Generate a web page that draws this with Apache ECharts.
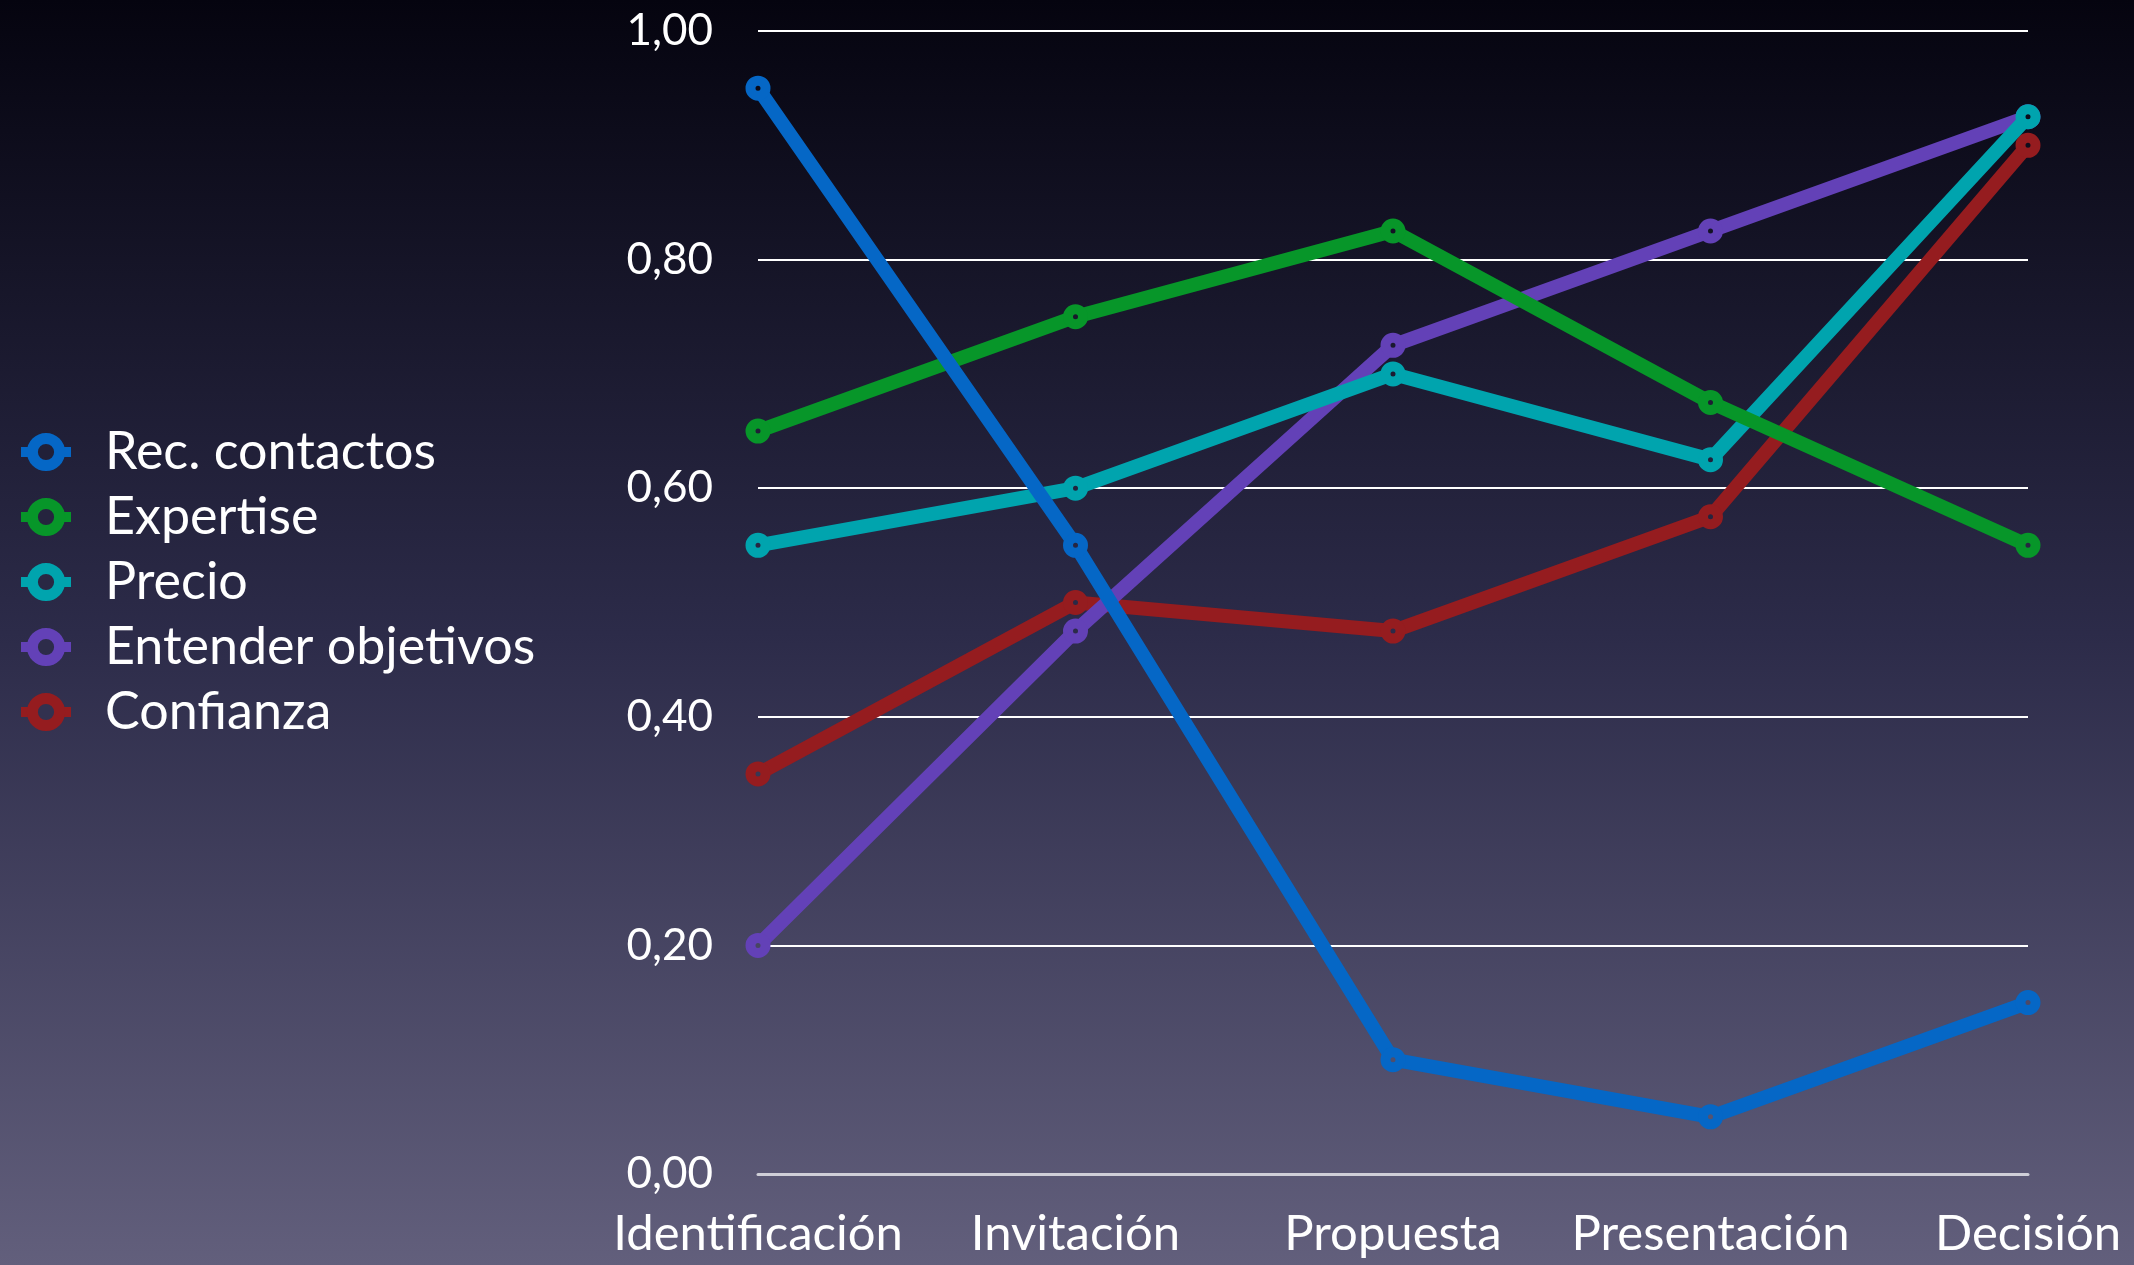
<!DOCTYPE html>
<html>
<head>
<meta charset="utf-8">
<script src="https://cdn.jsdelivr.net/npm/echarts@6/dist/echarts.min.js"></script>
<style>
  html, body { margin: 0; padding: 0; width: 2134px; height: 1265px; overflow: hidden; }
  #chart { width: 2134px; height: 1265px; }
</style>
</head>
<body>
<div id="chart"></div>
<script>
// Stages of the sales process
const categories = ['Identificación', 'Invitación', 'Propuesta', 'Presentación', 'Decisión'];

// Weight of each factor at each stage
const recContactos = [0.95, 0.55, 0.10, 0.05, 0.15];
const expertise = [0.65, 0.75, 0.825, 0.675, 0.55];
const precio = [0.55, 0.60, 0.70, 0.625, 0.925];
const entenderObjetivos = [0.20, 0.475, 0.725, 0.825, 0.925];
const confianza = [0.35, 0.50, 0.475, 0.575, 0.90];

const seriesNames = ['Rec. contactos', 'Expertise', 'Precio', 'Entender objetivos', 'Confianza'];
const seriesData = [recContactos, expertise, precio, entenderObjetivos, confianza];
const seriesColors = ['#0567c6', '#079629', '#00a4ae', '#6341b7', '#951c1f'];

const FONT = 'Lato, "Open Sans", sans-serif';
const WIDTH = 2134, HEIGHT = 1265;
const GRID = { left: 758, right: 106, top: 31, bottom: 91 };

// Vertical background gradient, also used to paint the hollow centre of the markers
const bgStops = [
  { offset: 0, color: [5, 4, 15] },
  { offset: 0.5, color: [44, 43, 73] },
  { offset: 1, color: [98, 95, 124] }
];
function bgAt(y) {
  const t = Math.max(0, Math.min(1, y / HEIGHT));
  let a = bgStops[0], b = bgStops[bgStops.length - 1];
  for (let i = 0; i < bgStops.length - 1; i++) {
    if (t >= bgStops[i].offset && t <= bgStops[i + 1].offset) { a = bgStops[i]; b = bgStops[i + 1]; break; }
  }
  const k = (t - a.offset) / ((b.offset - a.offset) || 1);
  const c = a.color.map((v, j) => Math.round(v + (b.color[j] - v) * k));
  return 'rgb(' + c.join(',') + ')';
}
const toRgb = c => 'rgb(' + c.join(',') + ')';

const chart = echarts.init(document.getElementById('chart'), null, { renderer: 'canvas' });

// Pixel row of a value on the y axis (axis runs 0..1)
function valueRow(v) {
  const h = HEIGHT - GRID.top - GRID.bottom;
  return GRID.top + (1 - v) * h;
}

const series = seriesData.map((data, i) => ({
  name: seriesNames[i],
  type: 'line',
  data: data,
  z: 10 - i,
  symbol: 'circle',
  symbolSize: 15,
  lineStyle: { color: seriesColors[i], width: 14 },
  itemStyle: {
    color: p => bgAt(valueRow(p.value)),
    borderColor: seriesColors[i],
    borderWidth: 10
  },
  emphasis: { disabled: true },
  animation: false
}));

// Legend rows sit at fixed heights; their ring centres take the local background tone
const legendTop = 426;
const legendStep = 64;
const legendData = seriesNames.map((name, i) => ({
  name: name,
  itemStyle: {
    color: bgAt(legendTop + 22 + i * legendStep),
    borderColor: seriesColors[i],
    borderWidth: 11
  },
  lineStyle: { color: seriesColors[i], width: 10 }
}));

chart.setOption({
  backgroundColor: {
    type: 'linear', x: 0, y: 0, x2: 0, y2: 1,
    colorStops: bgStops.map(s => ({ offset: s.offset, color: toRgb(s.color) }))
  },
  animation: false,
  legend: {
    orient: 'vertical',
    left: 16,
    top: legendTop,
    padding: 0,
    itemGap: 13,
    itemWidth: 50,
    itemHeight: 34,
    data: legendData,
    textStyle: { color: '#ffffff', fontFamily: FONT, fontSize: 52, lineHeight: 44, padding: [0, 0, 0, 29] }
  },
  grid: GRID,
  xAxis: {
    type: 'category',
    data: categories,
    boundaryGap: false,
    axisLine: { show: true, lineStyle: { color: '#cfcfd8', width: 3 } },
    axisTick: { show: false },
    axisLabel: { color: '#ffffff', fontFamily: FONT, fontSize: 49, margin: 36, interval: 0, hideOverlap: false },
    splitLine: { show: false }
  },
  yAxis: {
    type: 'value',
    min: 0,
    max: 1,
    interval: 0.2,
    axisLine: { show: false },
    axisTick: { show: false },
    axisLabel: {
      color: '#ffffff', fontFamily: FONT, fontSize: 44, margin: 45,
      formatter: v => v.toFixed(2).replace('.', ',')
    },
    splitLine: { show: true, lineStyle: { color: '#ffffff', width: 2 } }
  },
  series: series
});
</script>
</body>
</html>
